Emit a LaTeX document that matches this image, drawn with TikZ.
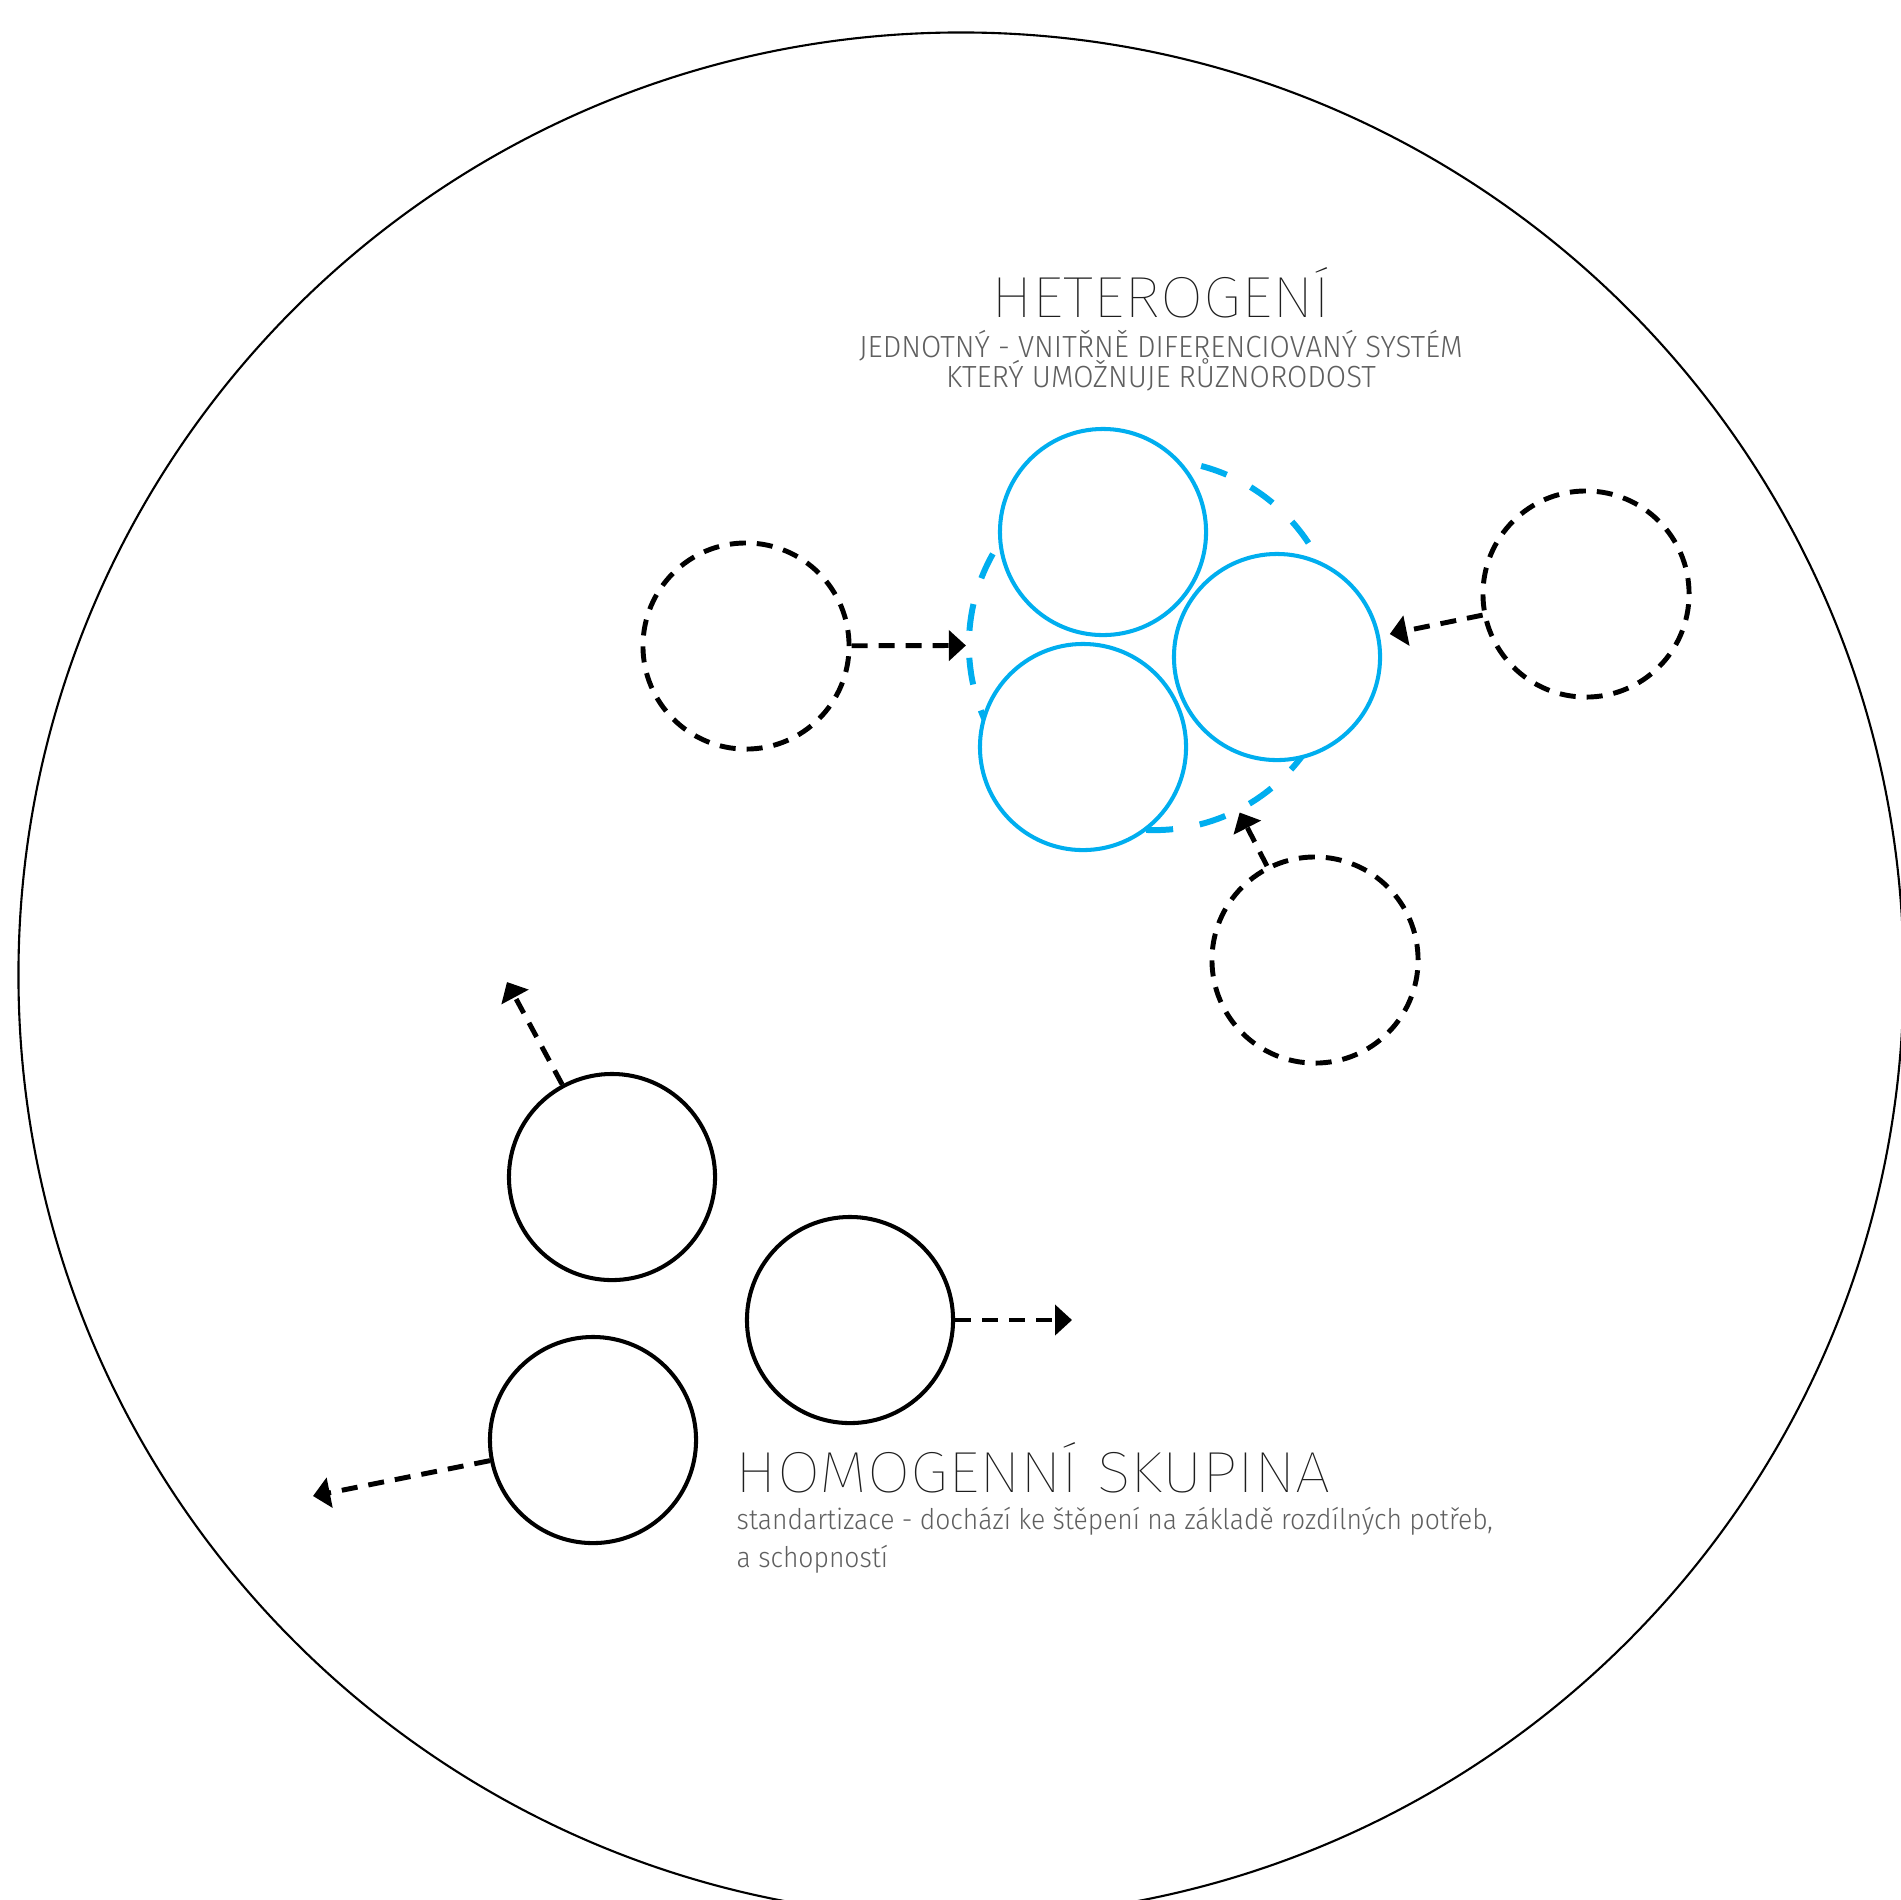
\documentclass[tikz,border=0pt]{standalone}
\usepackage{fontspec}
\setmainfont{Fira Sans}[UprightFont=* Light]
\usepackage{tikz}
\usetikzlibrary{arrows.meta}
\definecolor{skyA}{RGB}{0,174,239}
\definecolor{greyA}{RGB}{30,30,30}
\definecolor{greyB}{RGB}{95,95,95}
\newfontfamily\headfont{Fira Sans}[UprightFont=* Thin,FakeStretch=1.08]
\newfontfamily\capfont{Fira Sans}[UprightFont=* Light,FakeStretch=0.96]
\newfontfamily\subfont{Fira Sans}[UprightFont=* Light,FakeStretch=0.93]
\newcommand{\headsize}{\fontsize{16.5}{18}\selectfont}
\newcommand{\capsize}{\fontsize{8.7}{10}\selectfont}
\newcommand{\lowsize}{\fontsize{8.1}{10}\selectfont}

\begin{document}
\begin{tikzpicture}[x=0.01cm,y=-0.01cm,
  member/.style={circle,draw=skyA,line width=1.15pt,fill=white,minimum size=2.06cm,inner sep=0pt},
  cluster/.style={circle,draw=skyA,line width=1.7pt,dash pattern=on 0.27cm off 0.27cm,minimum size=3.7cm,inner sep=0pt},
  ghost/.style={circle,draw,line width=1.4pt,dash pattern=on 0.16cm off 0.11cm,minimum size=2.06cm,inner sep=0pt},
  solo/.style={circle,draw,line width=1.15pt,minimum size=2.06cm,inner sep=0pt},
  move/.style={line width=1.4pt,dash pattern=on 0.16cm off 0.11cm,-{Triangle[length=0.17cm,width=0.3cm]}},
  headtxt/.style={inner sep=0pt,text=greyA,font=\headfont\headsize},
  captxt/.style={inner sep=0pt,text=greyB,font=\capfont\capsize},
  lowtxt/.style={inner sep=0pt,text=greyB,font=\subfont\lowsize}]
\useasboundingbox (0,0) rectangle (1901,1899);
\clip (0,0) rectangle (1901,1899);
% outer boundary
\draw[line width=0.6pt] (961,975) circle[radius=9.42cm];
% heterogeneous group
\node[cluster] (grp) at (1154,645) {};
\node[member] (hTop) at (1103,532) {};
\node[member] (hRight) at (1277,657) {};
\node[member] (hLeft) at (1083,747) {};
% incoming ones
\node[ghost] (gLeft) at (746,646) {};
\node[ghost] (gRight) at (1586,594) {};
\node[ghost] (gLow) at (1315,960) {};
\draw[move] (gLeft) -- (grp);
\draw[move,shorten >=0.1cm] (gRight) -- (hRight);
\draw[move] (gLow) -- (grp);
% homogeneous group splitting
\node[solo] (sTop) at (612,1177) {};
\node[solo] (sRight) at (850,1320) {};
\node[solo] (sLow) at (593,1440) {};
\coordinate (sTopEnd) at (507,982);
\coordinate (sRightEnd) at (1072,1320);
\coordinate (sLowEnd) at (313,1496);
\draw[move] (sTop) -- (sTopEnd);
\draw[move] (sRight) -- (sRightEnd);
\draw[move] (sLow) -- (sLowEnd);
% labels
\node[headtxt,anchor=base] (hetTitle) at (1161,317) {HETEROGENÍ};
\node[captxt,anchor=base] (hetSub1) at (1161,357) {JEDNOTNÝ - VNITŘNĚ DIFERENCIOVANÝ SYSTÉM};
\node[captxt,anchor=base] (hetSub2) at (1161,387) {KTERÝ UMOŽNUJE RŮZNORODOST};
\node[headtxt,anchor=base west] (homTitle) at (735,1492) {HOMOGENNÍ SKUPINA};
\node[lowtxt,anchor=base west] (homSub1) at (736,1529) {standartizace - dochází ke štěpení na základě rozdílných potřeb,};
\node[lowtxt,anchor=base west] (homSub2) at (736,1567) {a schopností};
\end{tikzpicture}
\end{document}
